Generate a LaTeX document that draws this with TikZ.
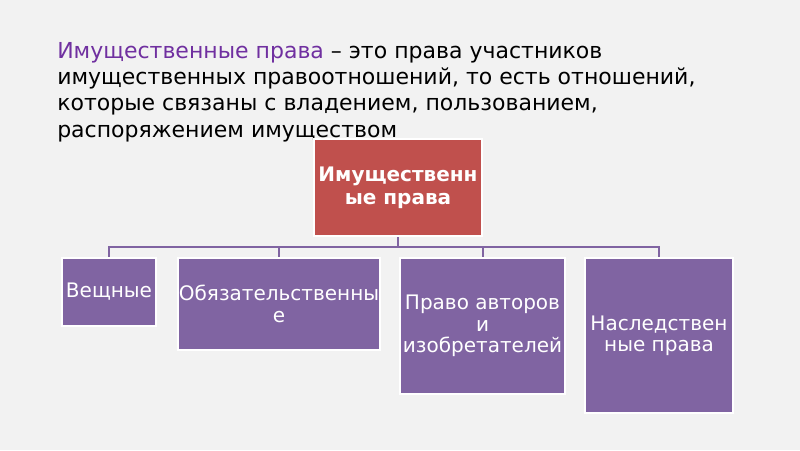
\documentclass[tikz,border=0pt]{standalone}
\usepackage{fontspec}
\setmainfont{DejaVu Sans}
\definecolor{bg}{HTML}{F2F2F2}
\definecolor{headred}{HTML}{C0504D}
\definecolor{kidpurple}{HTML}{8064A2}
\definecolor{titlepurple}{HTML}{7030A0}

\begin{document}
\begin{tikzpicture}[x=0.75pt,y=-0.75pt,
    box/.style={draw=white,line width=1.5pt,text=white,align=center,inner sep=1pt,
      font=\fontsize{15}{16}\selectfont},
    head/.style={box,fill=headred,font=\bfseries\fontsize{15}{17}\selectfont},
    kid/.style={box,fill=kidpurple},
    link/.style={draw=kidpurple,line width=1.5pt}]
  \fill[bg] (0,0) rectangle (800,450);
  \useasboundingbox (0,0) rectangle (800,450);

  % definition
  \node[anchor=north west,align=left,inner sep=0,font=\fontsize{16.5}{19.7}\selectfont] (title) at (57,42)
    {\textcolor{titlepurple}{Имущественные права} – это права участников\\
     имущественных правоотношений, то есть отношений,\\
     которые связаны с владением, пользованием,\\
     распоряжением имуществом};

  % chart
  \node[head,minimum width=126pt,minimum height=72.75pt] (prava) at (398,187.5) {Имущественн\\ые права};
  \node[kid,minimum width=70.5pt,minimum height=51pt] (veshch) at (109,292) {Вещные};
  \node[kid,minimum width=151.5pt,minimum height=69pt] (obyaz) at (279,304) {Обязательственны\\е};
  \node[kid,minimum width=123.75pt,minimum height=102pt] (avtor) at (482.5,326) {Право авторов\\и\\изобретателей};
  \node[kid,minimum width=111pt,minimum height=116.25pt] (nasled) at (659,335.5) {Наследствен\\ные права};

  \coordinate (bus) at (398,247);
  \draw[link] (prava.south) -- (bus);
  \foreach \k in {veshch,obyaz,avtor,nasled}
    \draw[link] (bus) -| (\k.north);
\end{tikzpicture}
\end{document}
